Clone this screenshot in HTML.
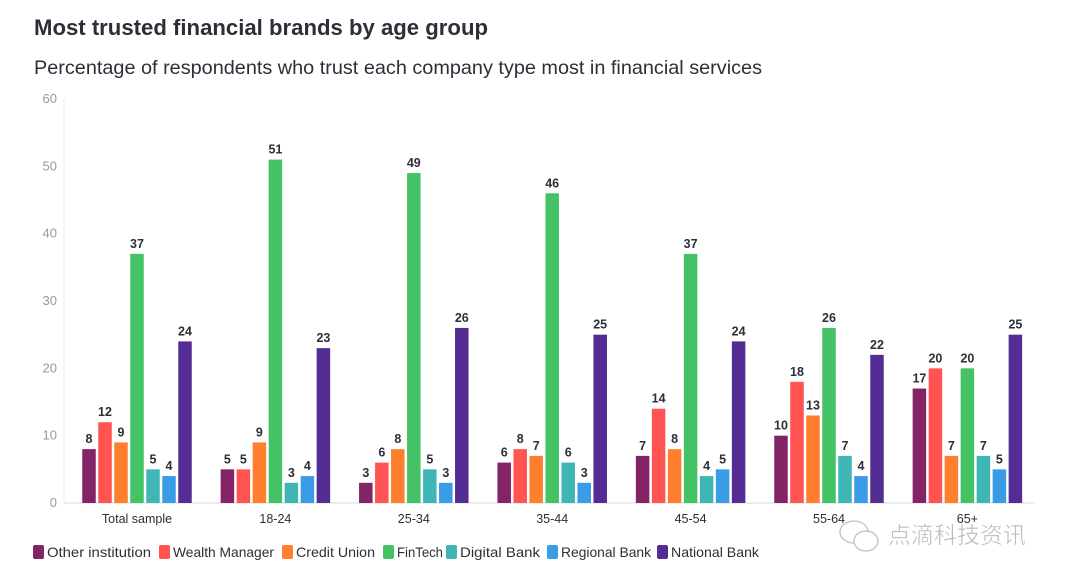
<!DOCTYPE html>
<html><head><meta charset="utf-8"><style>
body{margin:0;background:#fff;width:1080px;height:579px;overflow:hidden;font-family:"Liberation Sans","Noto Sans CJK SC",sans-serif}
</style></head><body>
<svg width="1080" height="579" style="position:absolute;left:0;top:0">
<text x="34" y="35" font-size="22" font-weight="bold" fill="#2e2e38" textLength="454" lengthAdjust="spacingAndGlyphs">Most trusted financial brands by age group</text>
<text x="34" y="74" font-size="19.5" fill="#2e2e38" textLength="728" lengthAdjust="spacingAndGlyphs">Percentage of respondents who trust each company type most in financial services</text>
<g id="axes"></g><g id="bars"></g><g id="legend"></g>
<g opacity="0.8">
<ellipse cx="854" cy="532" rx="14" ry="11" fill="none" stroke="#bbb" stroke-width="1.5"/>
<ellipse cx="866" cy="541" rx="12" ry="10" fill="#fff" stroke="#bbb" stroke-width="1.5"/>
<text x="888" y="543" font-size="23" fill="#aaa" stroke="#fff" stroke-width="0.5">点滴科技资讯</text>
</g>
</svg>
<script>
const categories=["Total sample","18-24","25-34","35-44","45-54","55-64","65+"];
const seriesNames=["Other institution","Wealth Manager","Credit Union","FinTech","Digital Bank","Regional Bank","National Bank"];
const colors=["#822466","#ff5451","#ff7f2f","#45c266","#3fb5b5","#3a9ce6","#532c94"];
const otherInst=[8,5,3,6,7,10,17];
const wealthMgr=[12,5,6,8,14,18,20];
const creditUnion=[9,9,8,7,8,13,7];
const finTech=[37,51,49,46,37,26,20];
const digitalBank=[5,3,5,6,4,7,7];
const regionalBank=[4,4,3,3,5,4,5];
const nationalBank=[24,23,26,25,24,22,25];
const yTicks=[0,10,20,30,40,50,60];
const series=[otherInst,wealthMgr,creditUnion,finTech,digitalBank,regionalBank,nationalBank];
const NS="http://www.w3.org/2000/svg";
const y=v=>503-v*(404/60);
const xc=i=>137+i*138.4;
function mk(t,a,p,txt){const e=document.createElementNS(NS,t);for(const k in a)e.setAttribute(k,a[k]);if(txt!==undefined)e.textContent=txt;p.appendChild(e);return e;}
const ax=document.getElementById('axes'),bg=document.getElementById('bars'),lg=document.getElementById('legend');
yTicks.forEach(t=>{const e=mk('text',{x:57,y:y(t)+4,'font-size':13,fill:'#999','text-anchor':'end'},ax,t);


if(t===0){const l=mk('line',{x1:64,x2:1035,y1:y(0),y2:y(0),stroke:'#e6e6e6','stroke-width':1.5},ax);

}});
const yl=mk('line',{x1:64,x2:64,y1:y(60),y2:y(0),stroke:'#eee','stroke-width':1},ax);


categories.forEach((c,i)=>{const e=mk('text',{x:xc(i),y:523,'font-size':12.5,fill:'#2e2e38','text-anchor':'middle'},ax,c);


series.forEach((s,j)=>{const bx=xc(i)+(j-3)*16-6.75;
const r=mk('rect',{x:bx,y:y(s[i]),width:13.5,height:y(0)-y(s[i]),fill:colors[j]},bg);


const v=mk('text',{x:bx+6.75,y:y(s[i])-6,'font-size':12.5,'font-weight':'bold',fill:'#2e2e38','text-anchor':'middle'},bg,s[i]);

});});
const lx=[33,159,282,383,446,547,657];
const lw=[104,101,79,46,80,90,88];
seriesNames.forEach((n,j)=>{const g=mk('g',{},lg);


mk('rect',{x:lx[j],y:545,width:11,height:14,rx:2,fill:colors[j]},g);
mk('text',{x:lx[j]+14,y:557,'font-size':14,fill:'#2e2e38',textLength:lw[j],lengthAdjust:'spacingAndGlyphs'},g,n);});
</script>
</body></html>
